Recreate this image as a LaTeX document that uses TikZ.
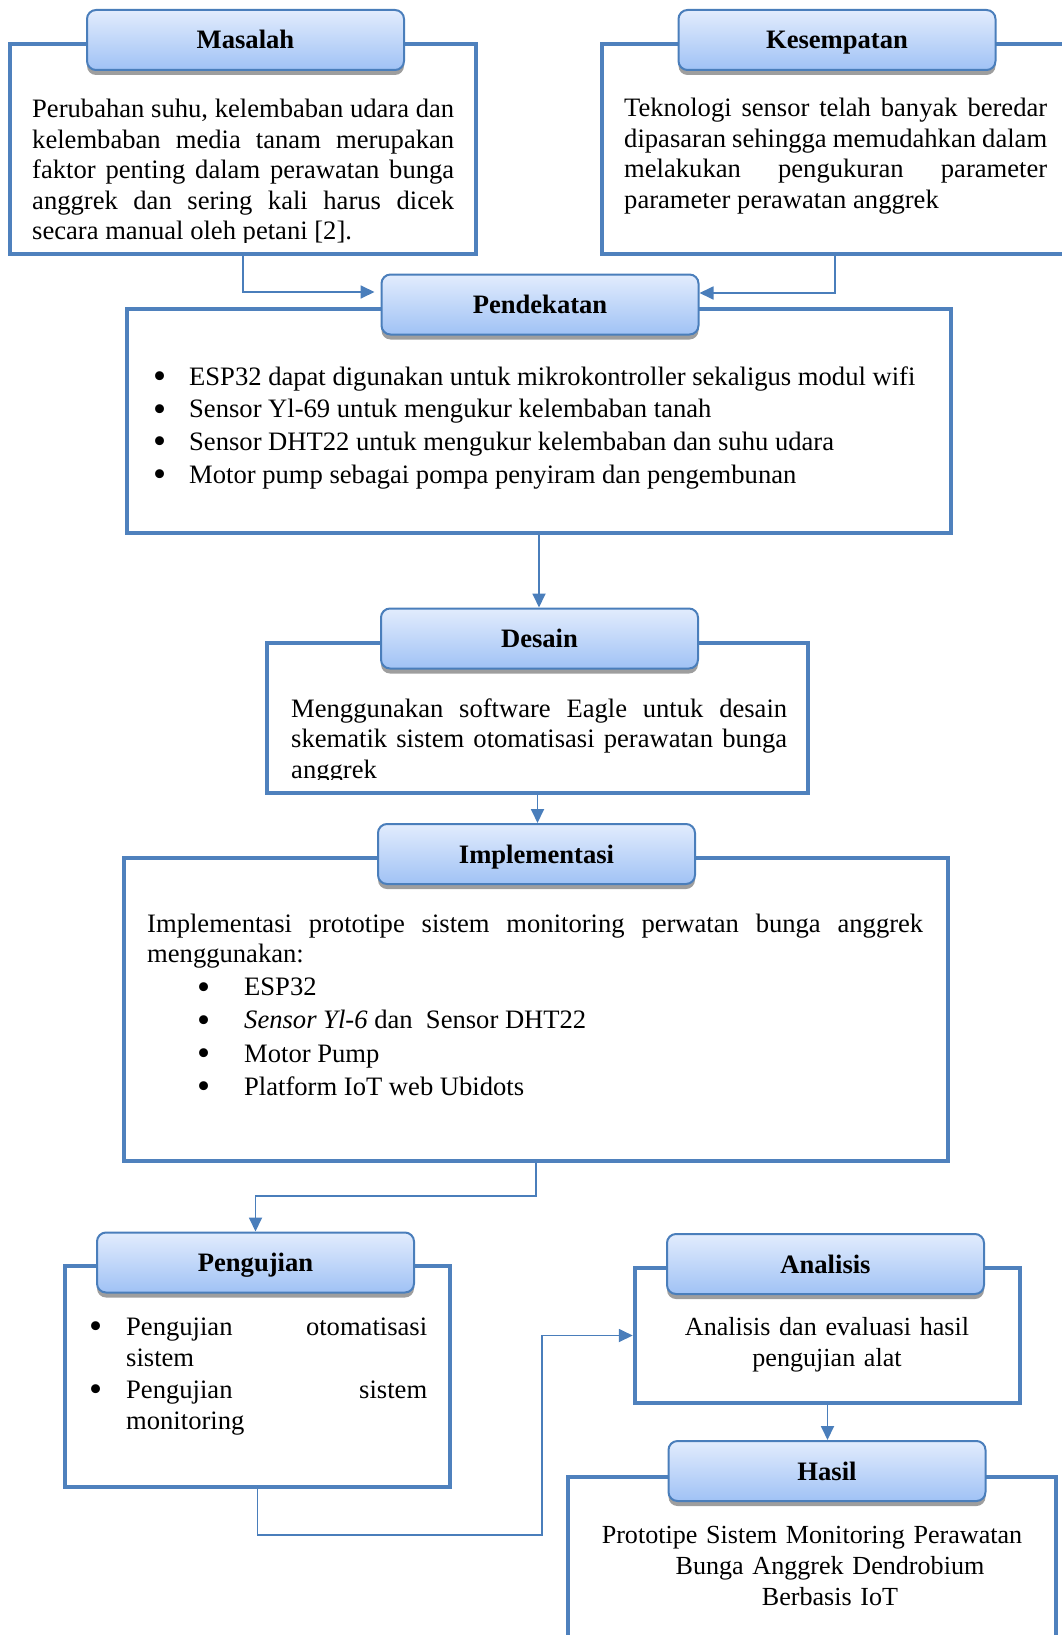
\documentclass[tikz,border=0pt]{standalone}
\usepackage{fontspec}
\setmainfont{Liberation Serif}
\usetikzlibrary{arrows.meta,shadows}

\definecolor{garisbingkai}{RGB}{79,129,189}
\definecolor{garisjudul}{RGB}{74,126,187}
\definecolor{judulatas}{RGB}{226,236,253}
\definecolor{judulbawah}{RGB}{160,194,245}
\definecolor{bayangan}{RGB}{158,158,158}

\hyphenpenalty=10000
\tolerance=10000
\hbadness=10000

% butir daftar: [jarak baris] geser kiri, lebar tempat bullet, isi butir
\newcommand{\butir}[4][32.7pt]{%
    \leavevmode\baselineskip=#1
    \hangindent=\dimexpr#2+#3\relax\hangafter=1
    \hspace*{#2}\makebox[#3][l]{\smash{\raisebox{-3.5pt}{\scalebox{1.4}{\textbullet}}}}#4\par}

\begin{document}
\begin{tikzpicture}[
    x={(1pt,0pt)},
    y={(0pt,-1pt)},
    bingkai/.style={
        draw=garisbingkai,
        line width=4.5pt,
        inner sep=0pt
    },
    judul/.style={
        draw=garisjudul,
        line width=2pt,
        rounded corners=9pt,
        top color=judulatas,
        bottom color=judulbawah,
        minimum width=317pt,
        minimum height=60pt,
        text height=24pt,
        text depth=6pt,
        font=\fontsize{26.6}{31}\selectfont\bfseries,
        drop shadow={shadow xshift=0pt, shadow yshift=-5pt,
                     fill=bayangan, opacity=1}
    },
    isi/.style={
        anchor=base west,
        inner sep=0pt,
        align=justify
    },
    tengah/.style={
        anchor=base,
        inner sep=0pt,
        align=center,
        font=\fontsize{26.1}{31}\selectfont
    },
    panah/.style={
        draw=garisjudul,
        line width=1.8pt,
        -{Triangle[length=14pt,width=13pt]}
    },
    every node/.style={
        font=\fontsize{26.6}{30.5}\selectfont
    }
]

\useasboundingbox (0,0) rectangle (1062,1635);
\clip (0,0) rectangle (1062,1635);

% =================================================
% Bingkai tiap tahap
% =================================================

\node[bingkai, minimum width=466pt, minimum height=210pt] (masalah)      at (243,149)      {};
\node[bingkai, minimum width=466pt, minimum height=210pt] (kesempatan)   at (835,149)      {};
\node[bingkai, minimum width=824pt, minimum height=224pt] (pendekatan)   at (539,421)      {};
\node[bingkai, minimum width=541pt, minimum height=150pt] (desain)       at (537.5,718)    {};
\node[bingkai, minimum width=824pt, minimum height=303pt] (implementasi) at (536,1009.5)   {};
\node[bingkai, minimum width=385pt, minimum height=221pt] (pengujian)    at (257.5,1376.5) {};
\node[bingkai, minimum width=385pt, minimum height=135pt] (analisis)     at (827.5,1335.5) {};
\node[bingkai, minimum width=488pt, minimum height=223pt] (hasil)        at (812,1588.5)   {};

% =================================================
% Judul tiap tahap
% =================================================

\node[judul] (masalahJ)      at (245.5,40)     {Masalah};
\node[judul] (kesempatanJ)   at (837,40)       {Kesempatan};
\node[judul] (pendekatanJ)   at (540,304.5)    {Pendekatan};
\node[judul] (desainJ)       at (539.5,638.5)  {Desain};
\node[judul] (implementasiJ) at (536.5,854)    {Implementasi};
\node[judul] (pengujianJ)    at (255.5,1262.5) {Pengujian};
\node[judul] (analisisJ)     at (825.5,1264)   {Analisis};
\node[judul] (hasilJ)        at (827,1471)     {Hasil};

% =================================================
% Panah penghubung
% =================================================

\draw[panah, shorten >=6pt] (masalah.south) |- ([yshift=12.5pt]pendekatanJ.west);
\draw[panah] (kesempatan.south) |- ([yshift=11.5pt]pendekatanJ.east);
\draw[panah] (pendekatan.south) -- (pendekatan.south |- desainJ.north);
\draw[panah] (desain.south) -- (desain.south |- implementasiJ.north);
\draw[panah] (implementasi.south) -- ++(0,33) -| (pengujianJ.north);
\draw[panah] (pengujian.south) -- ++(0,46) -| ([xshift=-91pt]analisis.west) -- (analisis.west);
\draw[panah] (analisis.south) -- (analisis.south |- hasilJ.north);

% =================================================
% Isi tiap tahap
% =================================================

% teks terpotong di bawah, seperti kotak aslinya
\begin{scope}
    \clip (14,75) rectangle (472,242);
    \node[isi, text width=422pt] (masalahT) at (32,118)
        {Perubahan suhu, kelembaban udara dan\linebreak
         kelembaban media tanam merupakan\linebreak
         faktor penting dalam perawatan bunga\linebreak
         anggrek dan sering kali harus dicek\linebreak
         secara manual oleh petani [2].};
\end{scope}

\node[isi, text width=423pt] (kesempatanT) at (624,117)
    {Teknologi sensor telah banyak beredar\linebreak
     dipasaran sehingga memudahkan dalam\linebreak
     melakukan pengukuran parameter\linebreak
     parameter perawatan anggrek};

\node[isi, text width=780pt] (pendekatanT) at (153,385)
    {\butir{0pt}{36pt}{ESP32 dapat digunakan untuk mikrokontroller sekaligus modul wifi}%
     \butir{0pt}{36pt}{Sensor Yl-69 untuk mengukur kelembaban tanah}%
     \butir{0pt}{36pt}{Sensor DHT22 untuk mengukur kelembaban dan suhu udara}%
     \butir{0pt}{36pt}{Motor pump sebagai pompa penyiram dan pengembunan}};

\begin{scope}
    \clip (270,672) rectangle (805,779);
    \node[isi, text width=496pt] (desainT) at (291,717)
        {Menggunakan software Eagle untuk desain\linebreak
         skematik sistem otomatisasi perawatan bunga\linebreak
         anggrek};
\end{scope}

\node[isi, text width=776pt] (implementasiT) at (147,932)
    {Implementasi prototipe sistem monitoring perwatan bunga anggrek\linebreak
     menggunakan:\par
     \butir[33.2pt]{50pt}{47pt}{ESP32}%
     \butir[33.2pt]{50pt}{47pt}{\textit{Sensor Yl-6} dan\ \ Sensor DHT22}%
     \butir[33.2pt]{50pt}{47pt}{Motor Pump}%
     \butir[33.2pt]{50pt}{47pt}{Platform IoT web Ubidots}};

\node[isi, text width=338pt] (pengujianT) at (89,1335)
    {\butir[31.6pt]{0pt}{37pt}{Pengujian otomatisasi\linebreak sistem}%
     \butir[31.6pt]{0pt}{37pt}{Pengujian sistem\linebreak monitoring}};

\node[tengah, text width=385pt] (analisisT) at (827,1335)
    {Analisis dan evaluasi hasil\\ pengujian alat};

\node[tengah, text width=480pt] (hasilT) at (812,1543)
    {Prototipe Sistem Monitoring Perawatan\\
     \hspace*{36pt}Bunga Anggrek Dendrobium\\
     \hspace*{36pt}Berbasis IoT};

\end{tikzpicture}
\end{document}
